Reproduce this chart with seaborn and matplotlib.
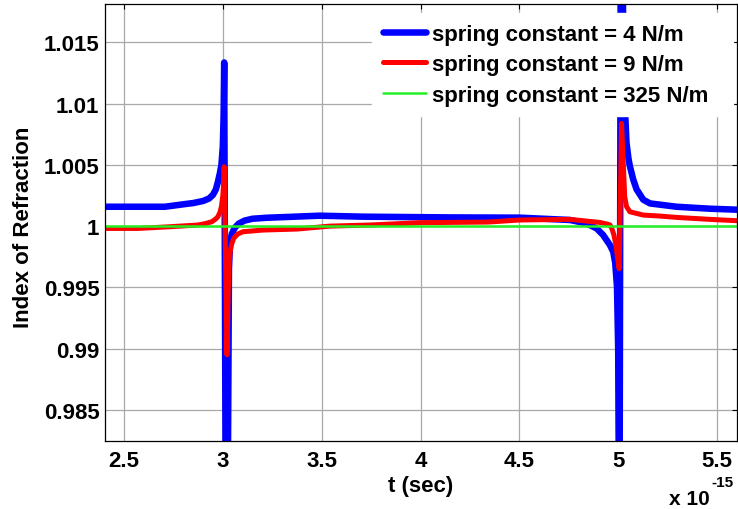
import matplotlib
matplotlib.use("Agg")
import matplotlib.pyplot as plt
import seaborn as sns

# ---- data (time in units of 1e-15 s) ----
t_k4 = [2.404, 2.707, 2.824, 2.850, 2.900, 2.930, 2.950, 2.965, 2.975, 2.985,
        2.993, 3.000, 3.004, 3.007, 3.016, 3.024, 3.031, 3.036, 3.045, 3.060,
        3.080, 3.110, 3.150, 3.220, 3.300, 3.491, 3.709, 4.149, 4.503, 4.756,
        4.840, 4.891, 4.924, 4.958, 4.975, 4.985, 4.994, 5.000, 5.006, 5.014,
        5.030, 5.042, 5.052, 5.059, 5.076, 5.093, 5.127, 5.161, 5.211, 5.295,
        5.464, 5.601]
n_k4 = [1.00158, 1.00158, 1.00183, 1.00188, 1.00205, 1.00225, 1.00255, 1.00300, 1.00360, 1.00430,
        1.00500, 1.00650, 1.00900, 1.01335, 0.97000, 0.97500, 0.99650, 0.99850, 0.99935, 0.99985,
        1.00020, 1.00045, 1.00060, 1.00068, 1.00073, 1.00085, 1.00077, 1.00071, 1.00069, 1.00050,
        1.00022, 0.99981, 0.99927, 0.99846, 0.99790, 0.99700, 0.99506, 0.99000, 0.97000, 1.03000,
        1.01100, 1.00680, 1.00550, 1.00490, 1.00380, 1.00300, 1.00215, 1.00185, 1.00175, 1.00158,
        1.00142, 1.00134]

t_k9 = [2.404, 2.571, 2.733, 2.874, 2.910, 2.945, 2.965, 2.975, 2.985, 2.993,
        3.000, 3.004, 3.007, 3.021, 3.028, 3.032, 3.038, 3.045, 3.055, 3.075,
        3.102, 3.203, 3.375, 3.542, 3.744, 3.997, 4.341, 4.503, 4.756, 4.907,
        4.935, 4.958, 4.968, 4.978, 4.988, 4.996, 5.005, 5.017, 5.033, 5.042,
        5.059, 5.127, 5.211, 5.295, 5.464, 5.601]
n_k9 = [0.99981, 0.99981, 0.99995, 1.00009, 1.00020, 1.00036, 1.00060, 1.00077, 1.00110, 1.00160,
        1.00250, 1.00350, 1.00485, 0.98950, 0.99500, 0.99700, 0.99800, 0.99855, 0.99900, 0.99935,
        0.99954, 0.99968, 0.99976, 1.00000, 1.00009, 1.00028, 1.00033, 1.00050, 1.00055, 1.00030,
        1.00020, 1.00010, 0.99980, 0.99930, 0.99850, 0.99750, 0.99652, 1.00838, 1.00240, 1.00160,
        1.00117, 1.00090, 1.00082, 1.00071, 1.00055, 1.00044]

t_k325 = [2.404, 5.601]
n_k325 = [1.0, 1.0]

labels = ["spring constant = 4 N/m", "spring constant = 9 N/m", "spring constant = 325 N/m"]
colors = ["#0000ff", "#ff0000", "#22f022"]

xticks = [2.5, 3.0, 3.5, 4.0, 4.5, 5.0, 5.5]
xticklabels = ["2.5", "3", "3.5", "4", "4.5", "5", "5.5"]
yticks = [0.985, 0.99, 0.995, 1.0, 1.005, 1.01, 1.015]
yticklabels = ["0.985", "0.99", "0.995", "1", "1.005", "1.01", "1.015"]

# ---- style ----
sns.set_style("white")
plt.rcParams["font.family"] = ["Liberation Sans", "DejaVu Sans"]
plt.rcParams["font.weight"] = "bold"
for key in ["text.color", "axes.labelcolor", "xtick.color", "ytick.color"]:
    plt.rcParams[key] = "black"

fig = plt.figure(figsize=(7.38, 5.10), dpi=100)
ax = fig.add_axes([105 / 738, (510 - 441.5) / 510, 632 / 738, 436.5 / 510])

series = [(t_k4, n_k4, 4.7), (t_k9, n_k9, 3.6), (t_k325, n_k325, 1.8)]
for (t, n, lw), lab, col in zip(series, labels, colors):
    sns.lineplot(x=t, y=n, ax=ax, color=col, linewidth=lw, label=lab,
                 estimator=None, sort=False)

ax.set_xlim(2.404, 5.601)
ax.set_ylim(0.98251, 1.01812)
ax.set_xticks(xticks)
ax.set_xticklabels(xticklabels)
ax.set_yticks(yticks)
ax.set_yticklabels(yticklabels)

ax.grid(True, color="#a8a8a8", linewidth=0.9, linestyle="-")
ax.set_axisbelow(True)
ax.tick_params(direction="in", length=3.5, width=0.8, top=True, right=True,
               labelsize=16, colors="black")
ax.tick_params(axis="x", pad=7)
ax.tick_params(axis="y", pad=4)
for lbl in ax.get_xticklabels() + ax.get_yticklabels():
    lbl.set_fontweight("bold")
    lbl.set_color("black")
for sp in ax.spines.values():
    sp.set_color("black")
    sp.set_linewidth(0.9)

ax.set_xlabel("t (sec)", fontsize=16, fontweight="bold", color="black")
ax.set_ylabel("Index of Refraction", fontsize=16, fontweight="bold", color="black")
ax.xaxis.set_label_coords(0.5, -0.078)
ax.yaxis.set_label_coords(-0.112, 0.49)

leg = ax.legend(loc="upper left", bbox_to_anchor=(0.4225, 0.9794, 0.5712, 0.0),
                mode="expand", borderaxespad=0.0, frameon=True, fancybox=False,
                prop={"size": 16, "weight": "bold"}, handlelength=1.95,
                handletextpad=0.25, labelspacing=0.43, borderpad=0.48)
leg.get_frame().set_facecolor("white")
leg.get_frame().set_edgecolor("white")
leg.get_frame().set_alpha(1.0)
for txt in leg.get_texts():
    txt.set_color("black")

fig.text(710 / 738, (510 - 505) / 510, "x 10", fontsize=15, fontweight="bold",
         ha="right", va="baseline", color="black")
fig.text(711 / 738, (510 - 487) / 510, "-15", fontsize=11, fontweight="bold",
         ha="left", va="baseline", color="black")

fig.savefig("out.png", dpi=100)
